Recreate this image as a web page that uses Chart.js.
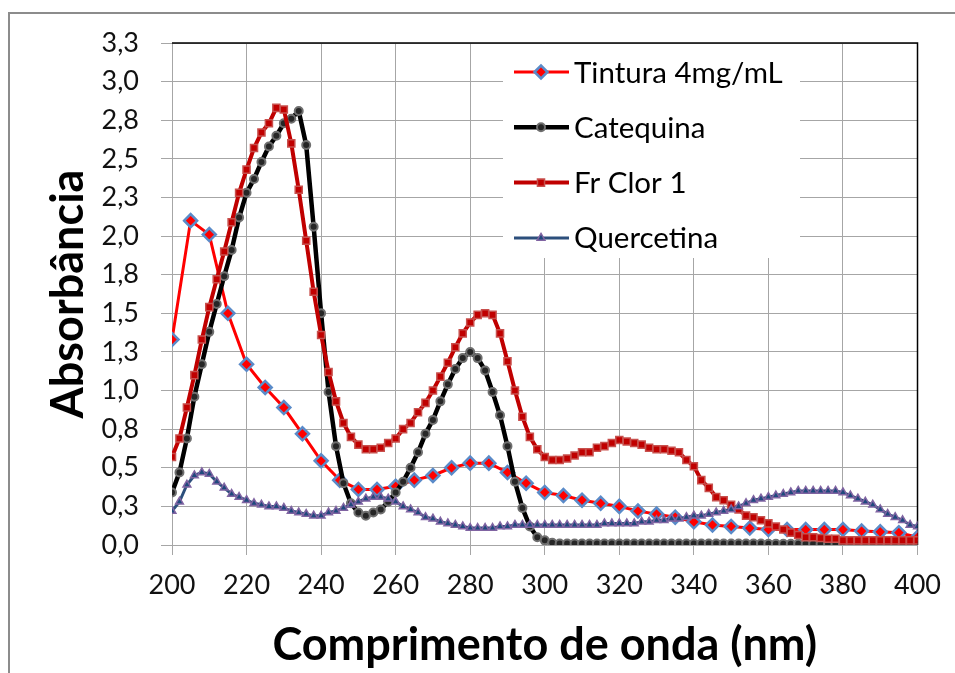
<!DOCTYPE html>
<html>
<head>
<meta charset="utf-8">
<script src="https://cdn.jsdelivr.net/npm/chart.js@4.4.0/dist/chart.umd.min.js"></script>
<style>
  html, body { margin: 0; padding: 0; background: #fff; }
  #wrap { width: 955px; height: 673px; }
</style>
</head>
<body>
<div id="wrap"><canvas id="myChart" width="955" height="673"></canvas></div>
<script>
// wavelengths (nm)
var wlTintura = [200, 205, 210, 215, 220, 225, 230, 235, 240, 245, 250, 255, 260, 265, 270, 275, 280, 285, 290, 295,
  300, 305, 310, 315, 320, 325, 330, 335, 340, 345, 350, 355, 360, 365, 370, 375, 380, 385, 390, 395, 400];

var wl = [200, 202, 204, 206, 208, 210, 212, 214, 216, 218,
  220, 222, 224, 226, 228, 230, 232, 234, 236, 238,
  240, 242, 244, 246, 248, 250, 252, 254, 256, 258,
  260, 262, 264, 266, 268, 270, 272, 274, 276, 278,
  280, 282, 284, 286, 288, 290, 292, 294, 296, 298,
  300, 302, 304, 306, 308, 310, 312, 314, 316, 318,
  320, 322, 324, 326, 328, 330, 332, 334, 336, 338,
  340, 342, 344, 346, 348, 350, 352, 354, 356, 358,
  360, 362, 364, 366, 368, 370, 372, 374, 376, 378,
  380, 382, 384, 386, 388, 390, 392, 394, 396, 398, 400];

var tintura = [1.33, 2.10, 2.01, 1.50, 1.17, 1.02, 0.89, 0.72, 0.545, 0.42, 0.36, 0.36, 0.38, 0.42, 0.45, 0.50, 0.53, 0.53, 0.47, 0.40,
  0.34, 0.32, 0.29, 0.27, 0.25, 0.22, 0.20, 0.18, 0.15, 0.13, 0.12, 0.11, 0.10, 0.10, 0.10, 0.10, 0.10, 0.09, 0.085, 0.08, 0.05];

var catequina = [0.34, 0.47, 0.69, 0.96, 1.17, 1.38, 1.56, 1.74, 1.91, 2.12,
  2.28, 2.37, 2.48, 2.58, 2.65, 2.73, 2.76, 2.81, 2.59, 2.06,
  1.50, 0.99, 0.64, 0.40, 0.27, 0.21, 0.19, 0.21, 0.23, 0.28,
  0.34, 0.41, 0.50, 0.60, 0.72, 0.81, 0.93, 1.04, 1.14, 1.21,
  1.25, 1.21, 1.13, 0.99, 0.84, 0.64, 0.41, 0.24, 0.12, 0.05,
  0.03, 0.015, 0.01, 0.01, 0.01, 0.01, 0.01, 0.01, 0.01, 0.01,
  0.01, 0.01, 0.01, 0.01, 0.01, 0.01, 0.01, 0.01, 0.01, 0.01,
  0.01, 0.01, 0.01, 0.01, 0.01, 0.01, 0.01, 0.01, 0.01, 0.01,
  0.008, 0.008, 0.008, 0.008, 0.008, 0.008, 0.008, 0.008, 0.008, 0.008,
  0.006, 0.006, 0.006, 0.006, 0.006, 0.006, 0.006, 0.006, 0.006, 0.006, 0.005];

var frClor1 = [0.57, 0.69, 0.89, 1.10, 1.33, 1.54, 1.72, 1.90, 2.09, 2.28,
  2.43, 2.57, 2.67, 2.73, 2.83, 2.82, 2.60, 2.30, 1.97, 1.64,
  1.36, 1.12, 0.93, 0.79, 0.70, 0.65, 0.62, 0.62, 0.63, 0.66,
  0.69, 0.75, 0.79, 0.86, 0.92, 1.00, 1.09, 1.18, 1.28, 1.37,
  1.44, 1.49, 1.50, 1.49, 1.37, 1.19, 1.00, 0.83, 0.70, 0.62,
  0.57, 0.55, 0.55, 0.56, 0.58, 0.60, 0.60, 0.63, 0.64, 0.66,
  0.68, 0.67, 0.66, 0.65, 0.63, 0.62, 0.62, 0.61, 0.60, 0.55,
  0.51, 0.42, 0.37, 0.31, 0.29, 0.26, 0.23, 0.19, 0.18, 0.16,
  0.14, 0.12, 0.10, 0.08, 0.065, 0.05, 0.05, 0.045, 0.04, 0.04,
  0.03, 0.03, 0.03, 0.03, 0.03, 0.03, 0.03, 0.03, 0.03, 0.03, 0.03];

var quercetina = [0.22, 0.28, 0.39, 0.45, 0.47, 0.46, 0.41, 0.37, 0.33, 0.31,
  0.29, 0.27, 0.26, 0.25, 0.25, 0.24, 0.22, 0.21, 0.20, 0.19,
  0.19, 0.21, 0.22, 0.24, 0.26, 0.28, 0.30, 0.31, 0.31, 0.30,
  0.28, 0.25, 0.23, 0.21, 0.18, 0.17, 0.15, 0.14, 0.13, 0.12,
  0.11, 0.11, 0.11, 0.11, 0.12, 0.12, 0.13, 0.13, 0.13, 0.13,
  0.13, 0.13, 0.13, 0.13, 0.13, 0.13, 0.13, 0.13, 0.14, 0.14,
  0.14, 0.14, 0.14, 0.15, 0.15, 0.16, 0.16, 0.17, 0.17, 0.18,
  0.19, 0.19, 0.20, 0.21, 0.22, 0.23, 0.25, 0.27, 0.29, 0.30,
  0.31, 0.32, 0.33, 0.34, 0.35, 0.35, 0.35, 0.35, 0.35, 0.35,
  0.34, 0.32, 0.30, 0.28, 0.26, 0.23, 0.20, 0.18, 0.16, 0.13, 0.12];

var seriesNames = ["Tintura 4mg/mL", "Catequina", "Fr Clor 1", "Quercetina"];
var yTickLabels = ["0,0", "0,3", "0,5", "0,8", "1,0", "1,3", "1,5", "1,8", "2,0", "2,3", "2,5", "2,8", "3,0", "3,3"];

function pairs(xs, ys) {
  var out = [];
  for (var i = 0; i < xs.length; i++) {
    out.push({ x: xs[i], y: ys[i] });
  }
  return out;
}

var FONT = "Lato, 'Liberation Sans', sans-serif";

// frame, plot edges and the legend inside the plot
var framePlugin = {
  id: "frame",
  beforeDraw: function (chart) {
    var ctx = chart.ctx;
    ctx.save();
    ctx.fillStyle = "#fff";
    ctx.fillRect(0, 0, chart.width, chart.height);
    ctx.strokeStyle = "#8c8c8c";
    ctx.lineWidth = 2;
    ctx.beginPath();
    ctx.moveTo(9, chart.height);
    ctx.lineTo(9, 13);
    ctx.lineTo(chart.width, 13);
    ctx.stroke();
    ctx.restore();
  },
  beforeDatasetsDraw: function (chart) {
    var ctx = chart.ctx;
    var a = chart.chartArea;
    ctx.save();
    ctx.fillStyle = "#fff";
    ctx.fillRect(503, a.top + 1, 297, 214);
    ctx.strokeStyle = "#000";
    ctx.lineWidth = 1.5;
    ctx.beginPath();
    ctx.moveTo(a.left, a.top);
    ctx.lineTo(a.right, a.top);
    ctx.lineTo(a.right, a.bottom);
    ctx.stroke();
    ctx.restore();
  },
  afterDatasetsDraw: function (chart) {
    var ctx = chart.ctx;
    ctx.save();
    var ds = chart.data.datasets;
    for (var i = 0; i < ds.length; i++) {
      var y = 72 + i * 55.3;
      ctx.strokeStyle = ds[i].borderColor;
      ctx.lineWidth = ds[i].borderWidth;
      ctx.beginPath();
      ctx.moveTo(514, y);
      ctx.lineTo(569, y);
      ctx.stroke();
      ctx.fillStyle = ds[i].pointBackgroundColor;
      ctx.strokeStyle = ds[i].pointBorderColor;
      ctx.lineWidth = ds[i].pointBorderWidth;
      Chart.helpers.drawPoint(ctx, {
        pointStyle: ds[i].pointStyle,
        radius: ds[i].pointRadius,
        borderWidth: ds[i].pointBorderWidth,
        rotation: 0
      }, 541, y);
      ctx.fillStyle = "#000";
      ctx.font = "29.5px " + FONT;
      ctx.textBaseline = "middle";
      ctx.fillText(ds[i].label, 574, y + 1);
    }
    ctx.restore();
  }
};

var ctx = document.getElementById("myChart");

new Chart(ctx, {
  type: "line",
  data: {
    datasets: [
      {
        label: seriesNames[0],
        data: pairs(wlTintura, tintura),
        borderColor: "#ff0000",
        borderWidth: 3,
        pointStyle: "rectRot",
        pointRadius: 6.5,
        pointBorderWidth: 2.5,
        pointBackgroundColor: "#ff0000",
        pointBorderColor: "#5a8bc9",
        order: 4
      },
      {
        label: seriesNames[1],
        data: pairs(wl, catequina),
        borderColor: "#000000",
        borderWidth: 4.5,
        pointStyle: "circle",
        pointRadius: 4,
        pointBorderWidth: 2,
        pointBackgroundColor: "#262626",
        pointBorderColor: "#6f6f6f",
        order: 3
      },
      {
        label: seriesNames[2],
        data: pairs(wl, frClor1),
        borderColor: "#c00000",
        borderWidth: 4,
        pointStyle: "rect",
        pointRadius: 5,
        pointBorderWidth: 1.5,
        pointBackgroundColor: "#c00000",
        pointBorderColor: "#c8504d",
        order: 2
      },
      {
        label: seriesNames[3],
        data: pairs(wl, quercetina),
        borderColor: "#2c4f7c",
        borderWidth: 3,
        pointStyle: "triangle",
        pointRadius: 4.5,
        pointBorderWidth: 1.5,
        pointBackgroundColor: "#1f497d",
        pointBorderColor: "#8064a2",
        order: 1
      }
    ]
  },
  options: {
    responsive: false,
    animation: false,
    layout: { padding: { left: 41, top: 43, right: 34, bottom: 0 } },
    plugins: {
      legend: { display: false },
      tooltip: { enabled: false }
    },
    scales: {
      x: {
        type: "linear",
        min: 200,
        max: 400,
        afterFit: function (s) { s.height = 128; },
        ticks: {
          stepSize: 20,
          color: "#111",
          padding: 14,
          font: { family: FONT, size: 27 }
        },
        grid: { color: "#a6a6a6", lineWidth: 1, tickLength: 10 },
        border: { color: "#a6a6a6", width: 1 },
        title: {
          display: true,
          text: "Comprimento de onda (nm)",
          color: "#000",
          padding: { top: 0, bottom: 1 },
          font: { family: FONT, size: 45, weight: "bold" }
        }
      },
      y: {
        min: 0,
        max: 3.25,
        afterFit: function (s) { s.width = 131; },
        ticks: {
          stepSize: 0.25,
          color: "#111",
          padding: 22,
          font: { family: FONT, size: 27 },
          callback: function (value, index) { return yTickLabels[index]; }
        },
        grid: { color: "#a6a6a6", lineWidth: 1, tickLength: 11 },
        border: { color: "#a6a6a6", width: 1 },
        title: {
          display: true,
          text: "Absorbância",
          color: "#000",
          padding: { top: 0, bottom: 0 },
          font: { family: FONT, size: 45, weight: "bold" }
        }
      }
    }
  },
  plugins: [framePlugin]
});
</script>
</body>
</html>
